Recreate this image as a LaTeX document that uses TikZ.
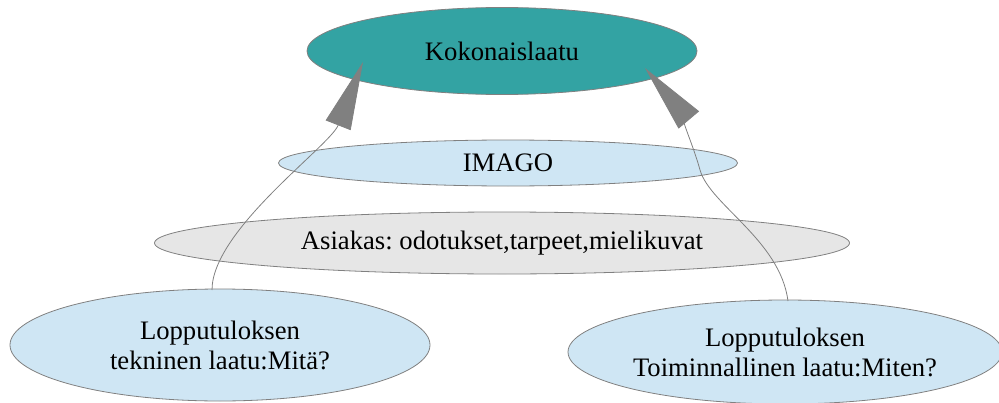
\documentclass[tikz,border=0pt]{standalone}
\usepackage{fontspec}
\setmainfont{Liberation Serif}
\usetikzlibrary{shapes.geometric,arrows.meta}

\definecolor{tealfill}{HTML}{33A3A3}
\definecolor{bluefill}{HTML}{CFE6F4}
\definecolor{greyfill}{HTML}{E6E6E6}
\definecolor{linegrey}{HTML}{808080}

\begin{document}
\frenchspacing
\begin{tikzpicture}[x=0.75pt,y=-0.75pt,
  oval/.style={ellipse,draw=linegrey,line width=0.6pt,inner sep=0pt,align=center,
    font=\fontsize{20}{22.5}\selectfont},
  conn/.style={draw=linegrey,line width=0.6pt,
    -{Triangle[length=51pt,width=20pt,fill=linegrey]}}]
\useasboundingbox (0,0) rectangle (999,403);

% Ellipses
\node[oval,fill=tealfill,minimum width=390*0.75pt,minimum height=87*0.75pt] (koko) at (502,51) {Kokonaislaatu};
\node[oval,fill=bluefill,minimum width=459*0.75pt,minimum height=46*0.75pt] (imago) at (508,163) {IMAGO};
\node[oval,fill=greyfill,minimum width=695*0.75pt,minimum height=62*0.75pt] (asiakas) at (502,243) {Asiakas: odotukset,tarpeet,mielikuvat};
\node[oval,fill=bluefill,minimum width=420*0.75pt,minimum height=112*0.75pt] (tekn) at (220,345) {Lopputuloksen\\tekninen laatu:Mitä?};
\node[oval,fill=bluefill,minimum width=434*0.75pt,minimum height=104*0.75pt] (toim) at (785,352) {Lopputuloksen\\Toiminnallinen laatu:Miten?};

% Arrow ends
\coordinate (startL) at (212,290);
\coordinate (tipL) at (363,62);
\coordinate (startR) at (788,301);
\coordinate (tipR) at (645,68);

% Connectors
\draw[conn] (startL) .. controls (212,230) and (330,146) .. (tipL);
\draw[conn] (startR) .. controls (780,240) and (710,205) .. (700,170)
  .. controls (692,140) and (672,100) .. (tipR);
\end{tikzpicture}
\end{document}
